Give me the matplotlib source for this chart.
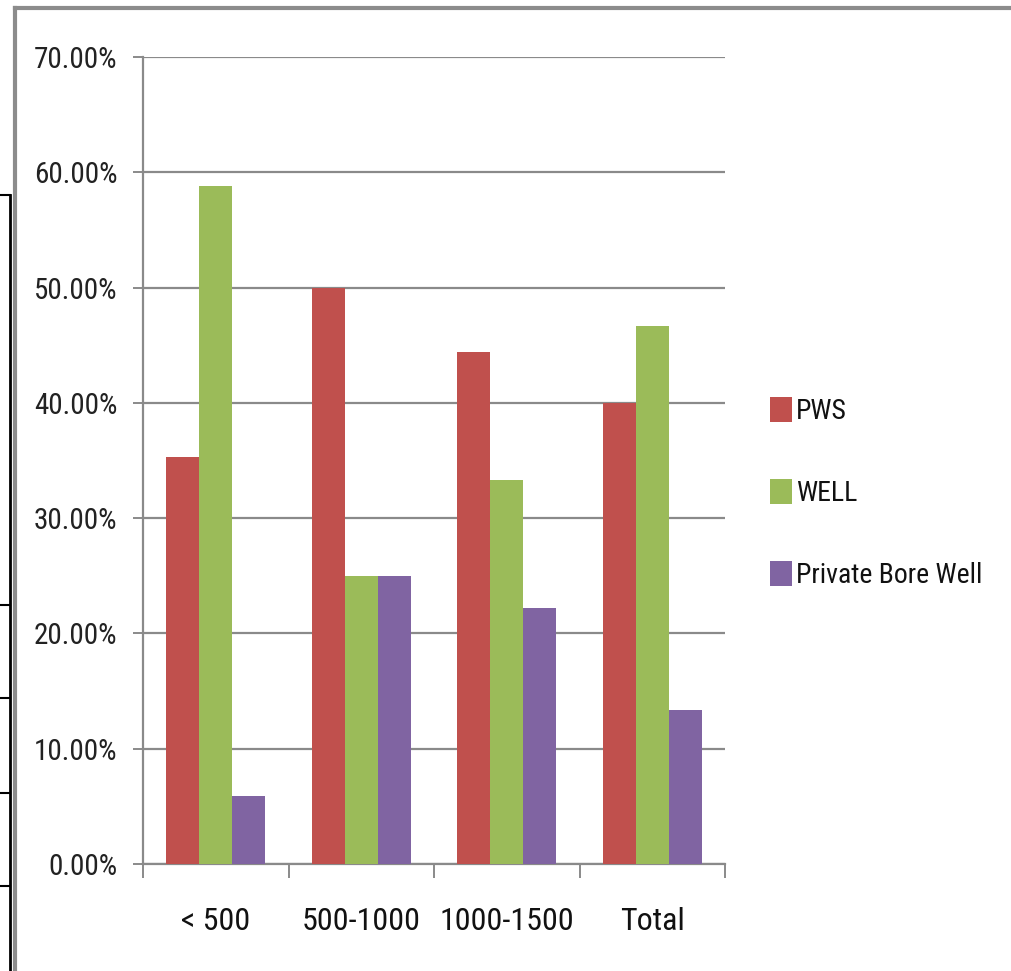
import matplotlib
matplotlib.use("Agg")
import matplotlib.pyplot as plt
import numpy as np
from matplotlib import font_manager
from matplotlib.lines import Line2D
from matplotlib.ticker import FuncFormatter

categories = ["< 500", "500-1000", "1000-1500", "Total"]
series = ["PWS", "WELL", "Private Bore Well"]
pws = [35.29, 50.00, 44.44, 40.00]
well = [58.82, 25.00, 33.33, 46.67]
bore = [5.88, 25.00, 22.22, 13.33]
colors = ["#C0504D", "#9BBB59", "#8064A2"]

# pick a narrow face for the text if one is around
installed = {f.name for f in font_manager.fontManager.ttflist}
narrow = "DejaVu Sans"
for name in ["Liberation Sans Narrow", "Roboto Condensed", "DejaVu Sans Condensed", "Open Sans Condensed"]:
    if name in installed:
        narrow = name
        break

fig = plt.figure(figsize=(10.11, 9.71), dpi=100)
W, H = 1011, 971
ax = fig.add_axes([143 / W, 1 - 864 / H, (725 - 143) / W, (864 - 57) / H])

x = np.arange(len(categories))
bw = 0.227
for i, (vals, c) in enumerate(zip([pws, well, bore], colors)):
    ax.bar(x + (i - 1) * bw, np.array(vals) / 100, bw, color=c, label=series[i], zorder=3)

ax.set_xlim(-0.5, 3.5)
ax.set_ylim(0, 0.70)
ax.set_yticks(np.arange(0, 0.701, 0.10))
ax.yaxis.set_major_formatter(FuncFormatter(lambda v, p: f"{v * 100:.2f}%"))
ax.grid(axis="y", color="#8a8a8a", linewidth=1.6, zorder=0)

for s in ["top", "right"]:
    ax.spines[s].set_visible(False)
for s in ["left", "bottom"]:
    ax.spines[s].set_color("#8a8a8a")
    ax.spines[s].set_linewidth(1.6)

ax.tick_params(axis="y", direction="out", length=7.5, width=1.4, color="#8a8a8a",
               pad=11, labelsize=21, labelcolor="#222222")
for lab in ax.get_yticklabels():
    lab.set_fontfamily(narrow)
ax.set_xticks(x)
ax.set_xticklabels(categories, fontfamily=narrow, fontsize=23, color="#111111")
ax.tick_params(axis="x", which="major", length=0, pad=31)
ax.set_xticks(np.arange(-0.5, 3.6, 1), minor=True)
ax.tick_params(axis="x", which="minor", direction="out", length=10, width=1.4, color="#8a8a8a")

fig.legend(loc="center left", bbox_to_anchor=(745 / W, 1 - 493 / H), frameon=False,
           prop={"family": narrow, "size": 20}, labelspacing=1.95,
           handlelength=0.8, handleheight=1.0, handletextpad=0.12, labelcolor="#111111")

# outer frame and the cut-off table lines at the left edge
gray = "#8c8c8c"
fig.add_artist(Line2D([15 / W, 1], [1 - 8 / H, 1 - 8 / H], color=gray, lw=3))
fig.add_artist(Line2D([15 / W, 15 / W], [0, 1 - 8 / H], color=gray, lw=3))
fig.add_artist(Line2D([10 / W, 10 / W], [0, 1 - 195 / H], color="black", lw=2))
for yy in [195, 605, 698, 793, 886]:
    fig.add_artist(Line2D([0, 10 / W], [1 - yy / H, 1 - yy / H], color="black", lw=1.5))

fig.savefig("out.png", dpi=100)
